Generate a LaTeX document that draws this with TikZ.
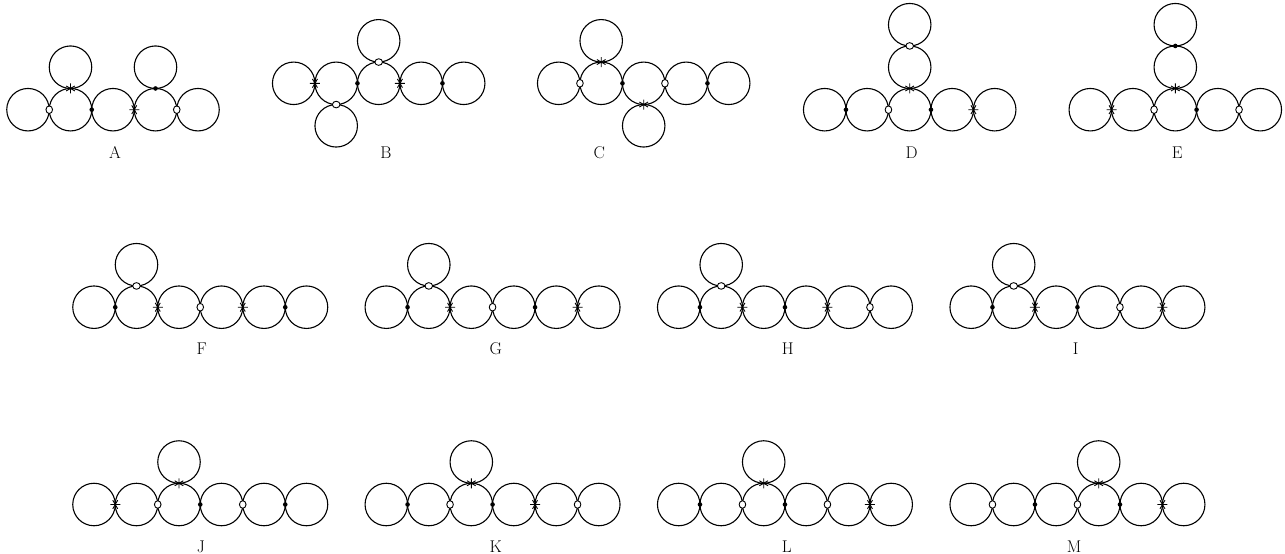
\documentclass[tikz,border=0pt]{standalone}
\usetikzlibrary{calc}
\tikzset{
  ring/.style={circle, draw, minimum size=42.5pt, inner sep=0pt, outer sep=0pt, line width=1.1pt},
  lbl/.style={anchor=base, inner sep=0pt, font=\fontsize{17}{20}\selectfont},
  mks/.pic={\draw[line width=0.9pt] (-5pt,0pt)--(5pt,0pt) (-2.5pt,-4.33pt)--(2.5pt,4.33pt) (2.5pt,-4.33pt)--(-2.5pt,4.33pt);},
  mko/.pic={\draw[line width=0.9pt, fill=white] (0pt,0pt) ellipse [x radius=3.3pt, y radius=3.8pt];},
  mkd/.pic={\fill (0pt,0pt) circle (2.3pt);}
}
\newcommand\chainrow[4]{\foreach \i in {1,...,#4} {\node[ring] (#1-\i) at ({#2+(\i-1)*42.5},#3) {};}}
\newcommand\sidem[2]{\pic at (#2.east) {mk#1};}
\newcommand\topm[2]{\pic[rotate=90] at (#2.north) {mk#1};}
\newcommand\botm[2]{\pic[rotate=90] at (#2.south) {mk#1};}
\newcommand\upring[2]{\node[ring] (#1) at ([yshift=42.5pt]#2.center) {};}
\newcommand\downring[2]{\node[ring] (#1) at ([yshift=-42.5pt]#2.center) {};}
\begin{document}
\begin{tikzpicture}[x=1pt,y=-1pt]
\useasboundingbox (0,0) rectangle (1285,554);
% ---------- A
\chainrow{A}{28}{109.7}{5}
\upring{A-t1}{A-2} \upring{A-t2}{A-4}
\sidem{o}{A-1} \sidem{d}{A-2} \sidem{s}{A-3} \sidem{o}{A-4}
\topm{s}{A-2} \topm{d}{A-4}
\node[lbl] (A-lab) at (115,158.3) {A};
% ---------- B
\chainrow{B}{293.7}{83.3}{5}
\upring{B-t1}{B-3} \downring{B-b1}{B-2}
\sidem{s}{B-1} \sidem{d}{B-2} \sidem{s}{B-3} \sidem{d}{B-4}
\topm{o}{B-3} \botm{o}{B-2}
\node[lbl] (B-lab) at (386,158.3) {B};
% ---------- C
\chainrow{C}{558.7}{83.3}{5}
\upring{C-t1}{C-2} \downring{C-b1}{C-3}
\sidem{o}{C-1} \sidem{d}{C-2} \sidem{o}{C-3} \sidem{d}{C-4}
\topm{s}{C-2} \botm{s}{C-3}
\node[lbl] (C-lab) at (599.3,158.3) {C};
% ---------- D
\chainrow{D}{824.7}{109.7}{5}
\upring{D-t1}{D-3} \upring{D-t2}{D-t1}
\sidem{d}{D-1} \sidem{o}{D-2} \sidem{d}{D-3} \sidem{s}{D-4}
\topm{s}{D-3} \topm{o}{D-t1}
\node[lbl] (D-lab) at (911.7,158.3) {D};
% ---------- E
\chainrow{E}{1090.3}{109.7}{5}
\upring{E-t1}{E-3} \upring{E-t2}{E-t1}
\sidem{s}{E-1} \sidem{o}{E-2} \sidem{d}{E-3} \sidem{o}{E-4}
\topm{s}{E-3} \topm{d}{E-t1}
\node[lbl] (E-lab) at (1177.3,158.3) {E};
% ---------- F
\chainrow{F}{94}{307.2}{6}
\upring{F-t1}{F-2}
\sidem{d}{F-1} \sidem{s}{F-2} \sidem{o}{F-3} \sidem{s}{F-4} \sidem{d}{F-5}
\topm{o}{F-2}
\node[lbl] (F-lab) at (201.7,354.5) {F};
% ---------- G
\chainrow{G}{386.3}{307.2}{6}
\upring{G-t1}{G-2}
\sidem{d}{G-1} \sidem{s}{G-2} \sidem{o}{G-3} \sidem{d}{G-4} \sidem{s}{G-5}
\topm{o}{G-2}
\node[lbl] (G-lab) at (495.7,354.5) {G};
% ---------- H
\chainrow{H}{678.7}{307.2}{6}
\upring{H-t1}{H-2}
\sidem{d}{H-1} \sidem{s}{H-2} \sidem{d}{H-3} \sidem{s}{H-4} \sidem{o}{H-5}
\topm{o}{H-2}
\node[lbl] (H-lab) at (787.7,354.5) {H};
% ---------- I
\chainrow{I}{971.2}{307.2}{6}
\upring{I-t1}{I-2}
\sidem{d}{I-1} \sidem{s}{I-2} \sidem{d}{I-3} \sidem{o}{I-4} \sidem{s}{I-5}
\topm{o}{I-2}
\node[lbl] (I-lab) at (1075.7,354.5) {I};
% ---------- J
\chainrow{J}{94}{504.5}{6}
\upring{J-t1}{J-3}
\sidem{s}{J-1} \sidem{o}{J-2} \sidem{d}{J-3} \sidem{o}{J-4} \sidem{d}{J-5}
\topm{s}{J-3}
\node[lbl] (J-lab) at (201,552) {J};
% ---------- K
\chainrow{K}{386.3}{504.5}{6}
\upring{K-t1}{K-3}
\sidem{d}{K-1} \sidem{o}{K-2} \sidem{d}{K-3} \sidem{s}{K-4} \sidem{o}{K-5}
\topm{s}{K-3}
\node[lbl] (K-lab) at (495.7,552) {K};
% ---------- L
\chainrow{L}{678.7}{504.5}{6}
\upring{L-t1}{L-3}
\sidem{d}{L-1} \sidem{o}{L-2} \sidem{d}{L-3} \sidem{o}{L-4} \sidem{s}{L-5}
\topm{s}{L-3}
\node[lbl] (L-lab) at (786.7,552) {L};
% ---------- M
\chainrow{M}{971.2}{504.5}{6}
\upring{M-t1}{M-4}
\sidem{o}{M-1} \sidem{d}{M-2} \sidem{o}{M-3} \sidem{d}{M-4} \sidem{s}{M-5}
\topm{s}{M-4}
\node[lbl] (M-lab) at (1074,552) {M};
\end{tikzpicture}
\end{document}
